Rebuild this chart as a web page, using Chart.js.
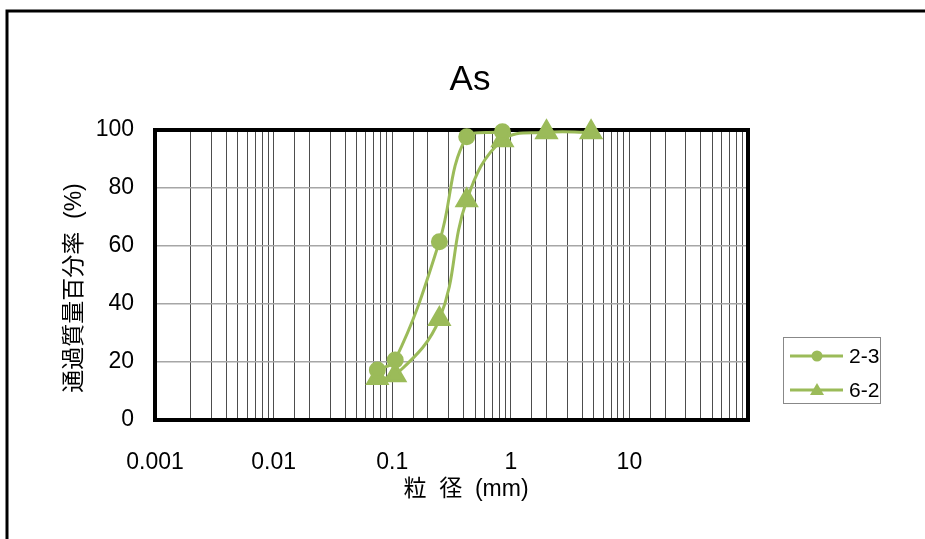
<!DOCTYPE html>
<html>
<head>
<meta charset="utf-8">
<script src="https://cdn.jsdelivr.net/npm/chart.js@4.4.1/dist/chart.umd.min.js"></script>
<style>
  html, body { margin: 0; padding: 0; background: #fff; }
  canvas { display: block; }
</style>
</head>
<body>
<canvas id="sieveChart" width="925" height="539"></canvas>
<script>
// sieve curve chart - As

const chartTitle = 'As';
const xAxisTitle = '粒  径  (mm)';
const yAxisTitle = '通過質量百分率  (%)';

const seriesNames = ['2-3', '6-2'];
const size23 = [0.075, 0.106, 0.25, 0.425, 0.85];
const pass23 = [17.2, 20.7, 61.5, 97.7, 99.4];
const size62 = [0.075, 0.106, 0.25, 0.425, 0.85, 2.0, 4.75];
const pass62 = [14.5, 15.4, 34.8, 75.8, 96.5, 99.2, 99.2];

const xTickValues = [0.001, 0.01, 0.1, 1, 10, 100];
const xTickLabels = ['0.001', '0.01', '0.1', '1', '10', ''];

const green = '#9BBB59';
const fontFamily = "'Liberation Sans', Arial, 'Noto Sans CJK JP', sans-serif";

function toPoints(xs, ys) {
    return xs.map((x, i) => ({ x: x, y: ys[i] }));
}

// white page with the cut-off outer frame
const framePlugin = {
    id: 'frame',
    beforeDraw(chart) {
        const ctx = chart.ctx;
        ctx.save();
        ctx.fillStyle = '#fff';
        ctx.fillRect(0, 0, chart.width, chart.height);
        ctx.strokeStyle = '#000';
        ctx.lineWidth = 3;
        ctx.beginPath();
        ctx.moveTo(7, chart.height);
        ctx.lineTo(7, 11);
        ctx.lineTo(chart.width, 11);
        ctx.stroke();
        ctx.restore();
    }
};

// thick plot area border
const plotBorderPlugin = {
    id: 'plotBorder',
    beforeDatasetsDraw(chart) {
        const a = chart.chartArea;
        const ctx = chart.ctx;
        ctx.save();
        ctx.strokeStyle = '#000';
        ctx.lineWidth = 4;
        ctx.strokeRect(a.left, a.top, a.right - a.left, a.bottom - a.top);
        ctx.restore();
    }
};

// chart and axis titles placed like the excel original
const titlesPlugin = {
    id: 'titles',
    afterDraw(chart) {
        const ctx = chart.ctx;
        ctx.save();
        ctx.fillStyle = '#000';
        ctx.textAlign = 'center';
        ctx.textBaseline = 'middle';
        ctx.font = '35px ' + fontFamily;
        ctx.fillText(chartTitle, 470, 80);
        ctx.font = '23px ' + fontFamily;
        ctx.fillText(xAxisTitle, 466, 490);
        ctx.translate(75, 288);
        ctx.rotate(-Math.PI / 2);
        ctx.fillText(yAxisTitle, 0, 0);
        ctx.restore();
    }
};

// boxed legend on the right
const legendBoxPlugin = {
    id: 'legendBox',
    afterDraw(chart) {
        const ctx = chart.ctx;
        ctx.save();
        ctx.strokeStyle = '#888';
        ctx.lineWidth = 1;
        ctx.strokeRect(783.5, 337.5, 97, 66);
        chart.data.datasets.forEach((ds, i) => {
            const y = 356 + i * 34;
            ctx.strokeStyle = ds.borderColor;
            ctx.lineWidth = 3;
            ctx.beginPath();
            ctx.moveTo(790, y);
            ctx.lineTo(843, y);
            ctx.stroke();
            ctx.fillStyle = ds.backgroundColor;
            ctx.beginPath();
            if (ds.pointStyle === 'triangle') {
                ctx.moveTo(817, y - 7);
                ctx.lineTo(824, y + 5);
                ctx.lineTo(810, y + 5);
                ctx.closePath();
            } else {
                ctx.arc(817, y, 5.5, 0, Math.PI * 2);
            }
            ctx.fill();
            ctx.fillStyle = '#000';
            ctx.font = '21px ' + fontFamily;
            ctx.textAlign = 'left';
            ctx.textBaseline = 'middle';
            ctx.fillText(ds.label, 849, y + 1);
        });
        ctx.restore();
    }
};

const ctx = document.getElementById('sieveChart').getContext('2d');
new Chart(ctx, {
    type: 'line',
    data: {
        datasets: [{
            label: seriesNames[0],
            data: toPoints(size23, pass23),
            borderColor: green,
            backgroundColor: green,
            borderWidth: 3,
            pointStyle: 'circle',
            pointRadius: 7,
            pointHoverRadius: 7,
            tension: 0.4,
            clip: false
        }, {
            label: seriesNames[1],
            data: toPoints(size62, pass62),
            borderColor: green,
            backgroundColor: green,
            borderWidth: 3,
            pointStyle: 'triangle',
            pointRadius: 11,
            pointHoverRadius: 11,
            tension: 0.4,
            clip: false
        }]
    },
    options: {
        responsive: false,
        animation: false,
        devicePixelRatio: 1,
        layout: {
            padding: { left: 0, top: 130, right: 177, bottom: 0 }
        },
        plugins: {
            legend: { display: false },
            tooltip: { enabled: false },
            title: { display: false }
        },
        scales: {
            x: {
                type: 'logarithmic',
                min: 0.001,
                max: 100,
                border: { display: false },
                grid: {
                    color: '#4d4d4d',
                    lineWidth: 1,
                    drawTicks: false
                },
                ticks: {
                    autoSkip: false,
                    maxRotation: 0,
                    padding: 29,
                    color: '#000',
                    font: { family: fontFamily, size: 23 },
                    callback: function (value) {
                        const i = xTickValues.findIndex(t => Math.abs(value - t) / t < 1e-6);
                        return i >= 0 ? xTickLabels[i] : '';
                    }
                },
                afterFit: function (scale) { scale.height = 119; }
            },
            y: {
                min: 0,
                max: 100,
                border: { display: false },
                grid: {
                    color: '#a6a6a6',
                    lineWidth: 1.5,
                    drawTicks: false
                },
                ticks: {
                    stepSize: 20,
                    padding: 21,
                    color: '#000',
                    font: { family: fontFamily, size: 23 }
                },
                afterFit: function (scale) { scale.width = 155; }
            }
        }
    },
    plugins: [framePlugin, plotBorderPlugin, titlesPlugin, legendBoxPlugin]
});
</script>
</body>
</html>
